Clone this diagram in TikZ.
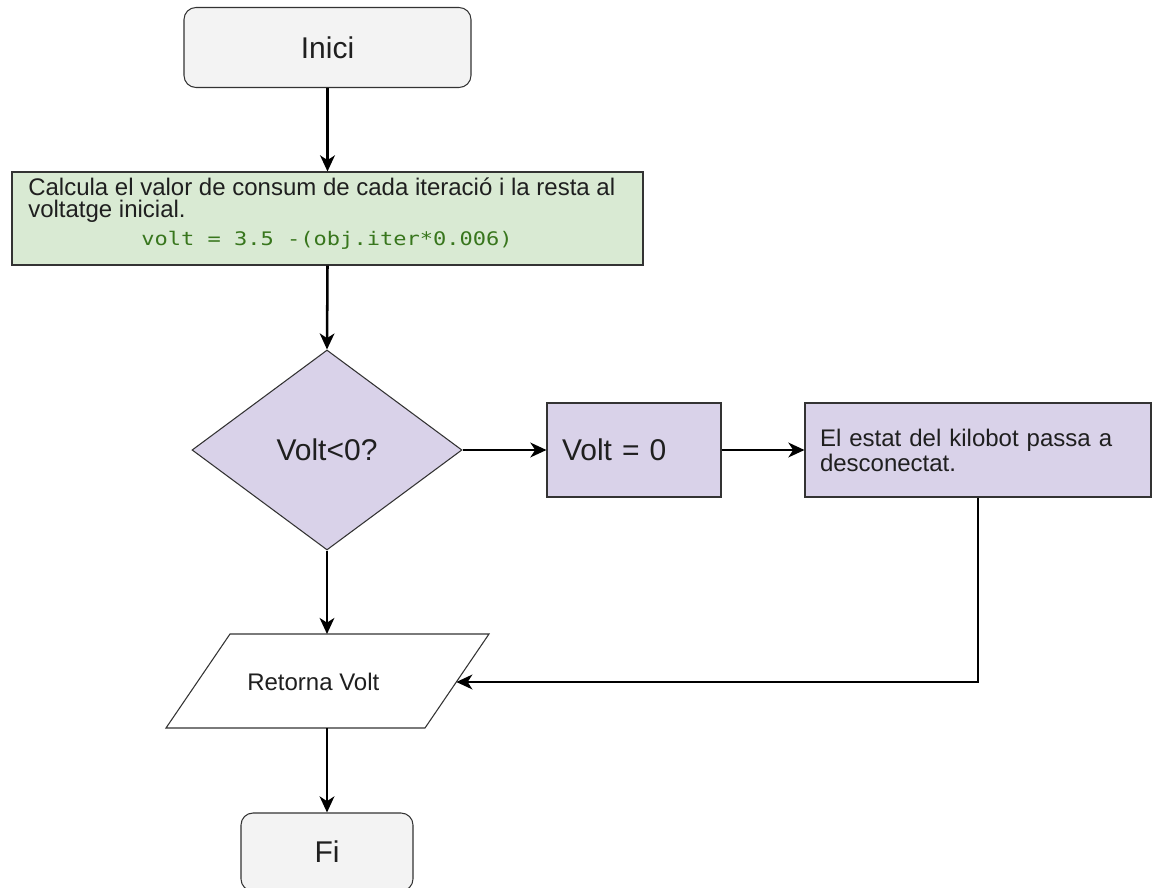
\documentclass[tikz,border=0pt]{standalone}
\usepackage{fontspec}
\setmainfont{Liberation Sans}
\newfontfamily\codefont[FakeStretch=1.18]{DejaVu Sans Mono}
\usetikzlibrary{arrows.meta,shapes.geometric}

\definecolor{edgegray}{HTML}{333333}
\definecolor{inkgray}{HTML}{1F1F1F}
\definecolor{termfill}{HTML}{F3F3F3}
\definecolor{calcfill}{HTML}{D9EAD3}
\definecolor{codegreen}{HTML}{38761D}
\definecolor{lilac}{HTML}{D9D2E9}

\begin{document}
\begin{tikzpicture}[x=0.75pt,y=-0.75pt,
  outline/.style={draw=edgegray,line width=0.8pt},
  bigtext/.style={font=\fontsize{22.5pt}{27pt}\selectfont,text=inkgray},
  midtext/.style={font=\fontsize{18pt}{18.75pt}\selectfont,text=inkgray},
  terminal/.style={outline,bigtext,fill=termfill,rounded corners=9pt,inner sep=0pt},
  procbox/.style={outline,fill=lilac,inner xsep=11.25pt,inner ysep=0pt,
                  minimum height=70.5pt,align=left},
  flow/.style={line width=1.9pt,draw=black,
               -{Stealth[length=12pt,width=11pt,inset=3.5pt]}}]

\useasboundingbox (0,0) rectangle (1154,888);

% start / end terminals
\node[terminal,minimum width=215.25pt,minimum height=60pt] (start) at (327.5,47.5) {Inici};
\node[terminal,minimum width=129pt,minimum height=58.5pt] (stop) at (327,852) {Fi};

% consumption calculation
\node[outline,fill=calcfill,minimum width=473.25pt,minimum height=69.75pt,inner sep=0pt]
  (calc) at (327.5,218.5) {};
\node[anchor=base west,inner sep=0pt,align=left,
      font=\fontsize{18pt}{16.5pt}\selectfont,text=inkgray] (calctext) at (28,218)
  {Calcula el valor de consum de cada iteració i la resta al\\voltatge inicial.};
\node[anchor=base,inner sep=0pt,text=codegreen,
      font=\codefont\fontsize{14pt}{16pt}\selectfont] (calccode) at (327,246)
  {volt = 3.5 -(obj.iter*0.006)};

% decision
\node[diamond,outline,fill=lilac,bigtext,minimum width=202.5pt,minimum height=150pt,
      inner sep=0pt] (test) at (327,450) {Volt<0?};

% voltage reset and state change
\node[procbox,bigtext,text width=108pt] (reset) at (634,450) {Volt = 0};
\node[procbox,midtext,text width=237pt] (state) at (978,450)
  {El estat del kilobot passa a\\desconectat.};

% output (parallelogram)
\draw[outline,fill=white] (230,634) -- (489,634) -- (425,728) -- (166,728) -- cycle;
\coordinate (ret-top) at (327,634);
\coordinate (ret-bot) at (327,728);
\coordinate (ret-in) at (456.3,682);
\node[anchor=base west,inner sep=0pt,midtext] (ret) at (247,690.5) {Retorna Volt};

% connectors
\draw[flow] (start.south) -- (calc.north);
\draw[flow] (calc.south) -- (test.north);
\draw[flow] (test.east) -- (reset.west);
\draw[flow] (reset.east) -- (state.west);
\draw[flow] (state.south) |- (ret-in);
\draw[flow] (test.south) -- (ret-top);
\draw[flow] (ret-bot) -- (stop.north);

\end{tikzpicture}
\end{document}
